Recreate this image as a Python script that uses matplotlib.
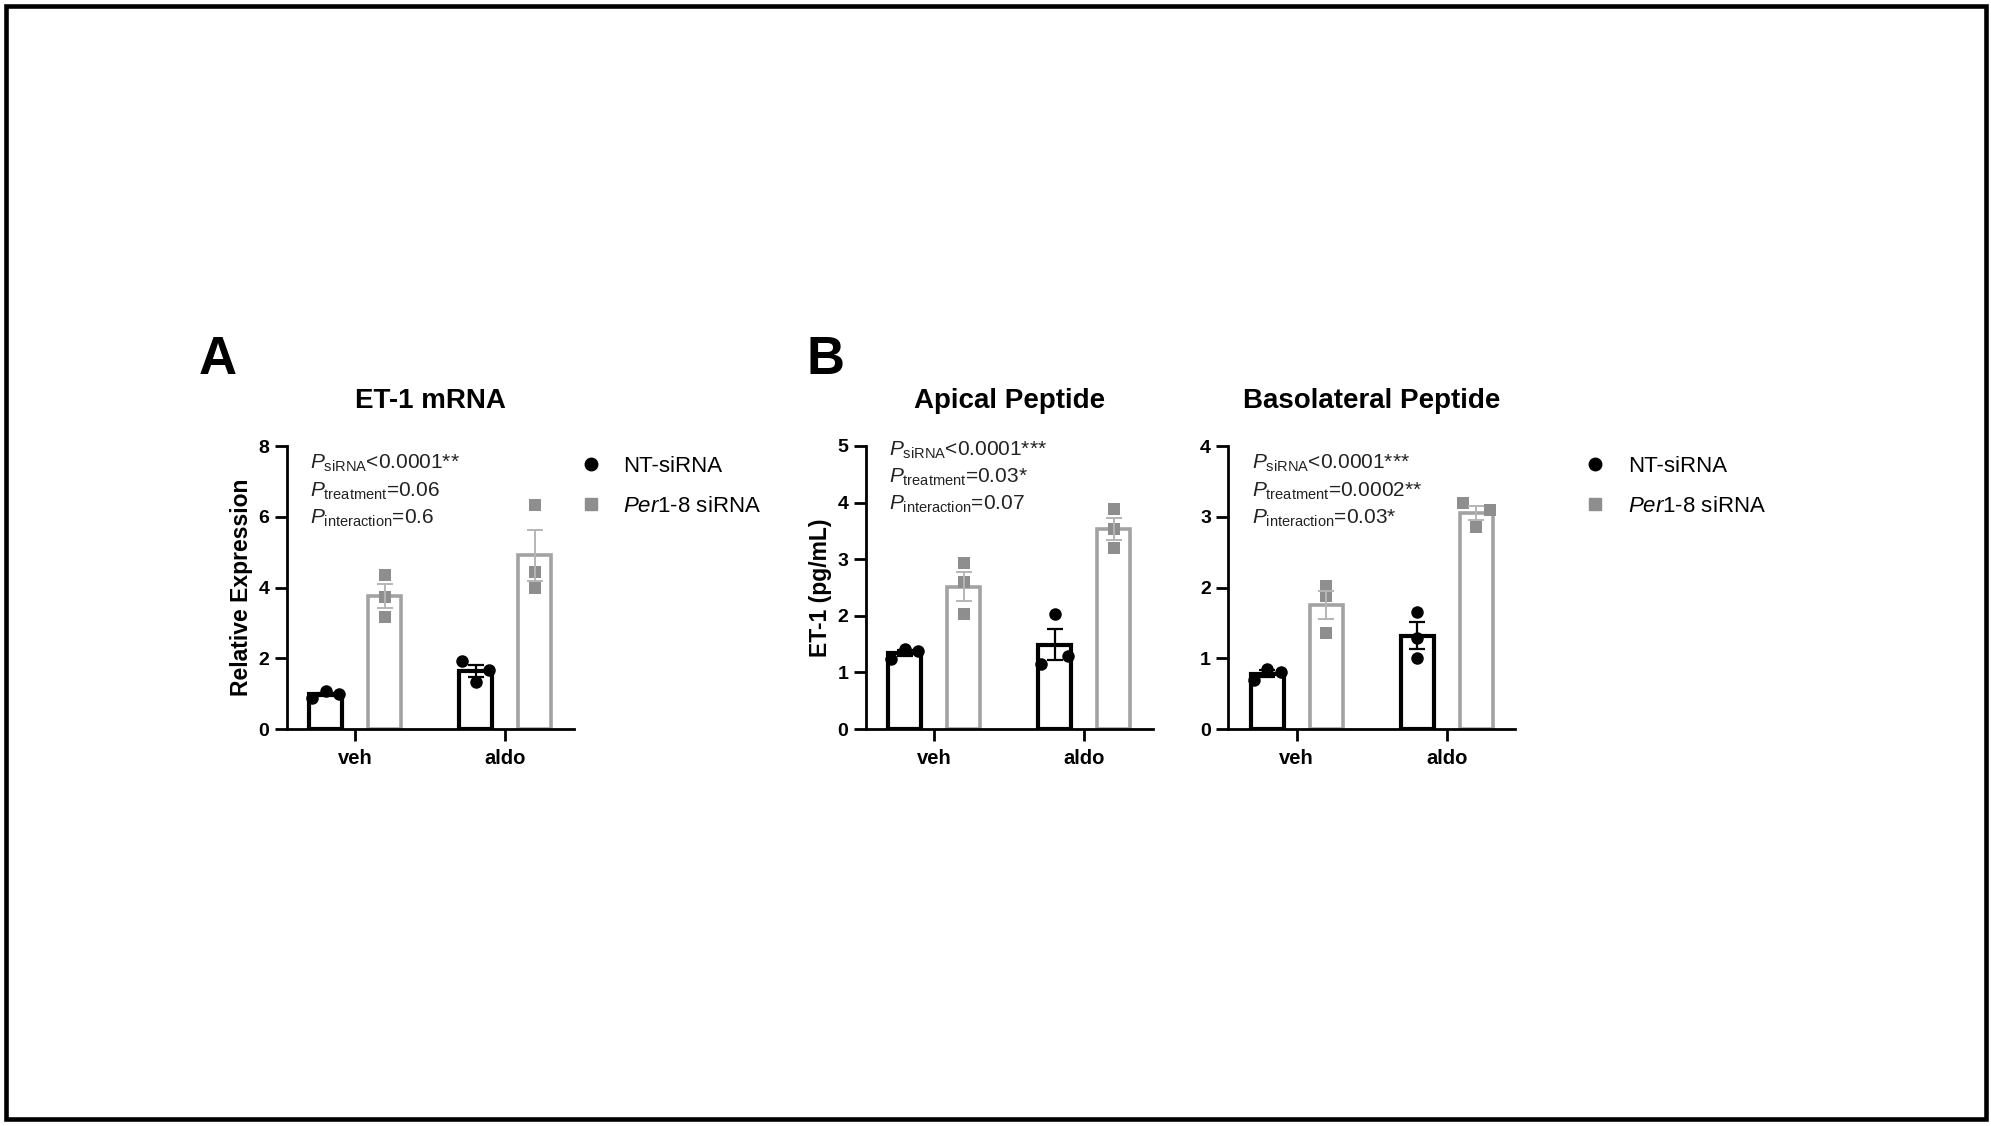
import numpy as np
import matplotlib
matplotlib.use("Agg")
import matplotlib.pyplot as plt
from matplotlib.lines import Line2D
from matplotlib.patches import Rectangle

plt.rcParams['font.family'] = ['Liberation Sans', 'DejaVu Sans']
plt.rcParams['mathtext.fontset'] = 'custom'
plt.rcParams['mathtext.rm'] = 'Liberation Sans'
plt.rcParams['mathtext.it'] = 'Liberation Sans:italic'
plt.rcParams['mathtext.bf'] = 'Liberation Sans:bold'

# data (3 replicates per bar)
groups = ["veh", "aldo"]
series = ["NT-siRNA", r"$\it{Per1}$-8 siRNA"]

mrna_nt = [[0.88, 1.07, 0.98], [1.92, 1.33, 1.66]]
mrna_per1 = [[4.36, 3.72, 3.18], [6.32, 4.43, 3.98]]
apical_nt = [[1.24, 1.42, 1.38], [1.14, 2.04, 1.29]]
apical_per1 = [[2.93, 2.59, 2.03], [3.88, 3.53, 3.19]]
baso_nt = [[0.69, 0.85, 0.81], [1.66, 1.29, 1.01]]
baso_per1 = [[2.02, 1.88, 1.36], [3.20, 2.86, 3.09]]

titles = ["ET-1 mRNA", "Apical Peptide", "Basolateral Peptide"]
ylabels = ["Relative Expression", "ET-1 (pg/mL)", None]
ymax = [8, 5, 4]
ystep = [2, 1, 1]
pvals = [
    [r"$P_{\mathrm{siRNA}}$<0.0001**", r"$P_{\mathrm{treatment}}$=0.06", r"$P_{\mathrm{interaction}}$=0.6"],
    [r"$P_{\mathrm{siRNA}}$<0.0001***", r"$P_{\mathrm{treatment}}$=0.03*", r"$P_{\mathrm{interaction}}$=0.07"],
    [r"$P_{\mathrm{siRNA}}$<0.0001***", r"$P_{\mathrm{treatment}}$=0.0002**", r"$P_{\mathrm{interaction}}$=0.03*"],
]

# how the dots are spread inside each bar (-1 left, 0 centre, 1 right)
spread = [
    [[-1, 0, 1], [-1, 0, 1]], [[0, 0, 0], [0, 0, 0]],
    [[-1, 0, 1], [-1, 0, 1]], [[0, 0, 0], [0, 0, 0]],
    [[-1, 0, 1], [0, 0, 0]], [[0, 0, 0], [-1, 0, 1]],
]

panels = [(mrna_nt, mrna_per1), (apical_nt, apical_per1), (baso_nt, baso_per1)]

black = "black"
grey_edge = "#a3a3a3"
grey_pts = "#8e8e8e"
grey_err = "#b5b5b5"

W, H = 1991, 1126
fig = plt.figure(figsize=(W / 100, H / 100), dpi=100)

ax_left = [286.7, 865.7, 1228.3]
ax_w = 287
ax_bottom = 729
ax_top = 446
text_y = [[463, 491, 518], [450, 477, 504], [463, 491, 518]]

width = 0.22
off = 0.196
jit = 0.09

axes = []
for k in range(3):
    ax = fig.add_axes([ax_left[k] / W, 1 - ax_bottom / H, ax_w / W, (ax_bottom - ax_top) / H])
    axes.append(ax)
    nt, per1 = panels[k]
    x = np.arange(len(groups))
    for s, (vals, edge, pc, ec, mk, ms) in enumerate([
            (nt, black, black, black, 'o', 9.0),
            (per1, grey_edge, grey_pts, grey_err, 's', 8.0)]):
        arr = np.array(vals)
        means = arr.mean(axis=1)
        sem = arr.std(axis=1, ddof=1) / np.sqrt(arr.shape[1])
        xs = x + (-off if s == 0 else off)
        ax.bar(xs, means, width=width, facecolor="white", edgecolor=edge,
               linewidth=3.0 if s == 0 else 2.6, zorder=2)
        for g in range(len(groups)):
            px = xs[g] + jit * np.array(spread[2 * k + s][g])
            ax.scatter(px, arr[g], s=ms ** 2, marker=mk, color=pc,
                       linewidths=0, zorder=3)
        ax.errorbar(xs, means, yerr=sem, fmt='none', ecolor=ec,
                    elinewidth=1.6 if s == 0 else 1.4, capsize=6,
                    capthick=1.6 if s == 0 else 1.4, zorder=4)

    ax.set_xlim(-0.455, 1.455)
    ax.set_ylim(0, ymax[k])
    ax.set_yticks(np.arange(0, ymax[k] + 0.1, ystep[k]))
    ax.set_xticks(x)
    ax.set_xticklabels(groups)
    for sp in ["top", "right"]:
        ax.spines[sp].set_visible(False)
    for sp in ["left", "bottom"]:
        ax.spines[sp].set_linewidth(2.0)
    ax.tick_params(axis='both', direction='out', length=8.5, width=2.0,
                   labelsize=14, pad=4)
    ax.tick_params(axis='x', labelsize=14.5, pad=6)
    for lab in ax.get_xticklabels() + ax.get_yticklabels():
        lab.set_fontweight("bold")
    ax.set_title(titles[k], fontsize=20, fontweight="bold", y=1.135, pad=0)
    if ylabels[k]:
        ax.set_ylabel(ylabels[k], fontsize=16.5, fontweight="bold")
        ax.yaxis.set_label_coords(-0.118, 0.5)
    for i, t in enumerate(pvals[k]):
        ax.text(0.081, (ax_bottom - text_y[k][i]) / (ax_bottom - ax_top), t,
                transform=ax.transAxes, fontsize=15, va='center', ha='left',
                color="#222222")

handles = [
    Line2D([], [], marker='o', color=black, linestyle='none', markersize=9),
    Line2D([], [], marker='s', color=grey_pts, linestyle='none', markersize=8.2),
]
for k, lx in [(0, 579.6), (2, 1584)]:
    ax = axes[k]
    ax.legend(handles, series, loc='upper left', frameon=False, fontsize=16,
              bbox_to_anchor=((lx - ax_left[k]) / ax_w, (ax_bottom - 456) / (ax_bottom - ax_top)),
              borderpad=0, borderaxespad=0, handlelength=1.0, handletextpad=0.97,
              labelspacing=0.85)

fig.text(199 / W, 1 - 374 / H, "A", fontsize=38, fontweight="bold", ha="left", va="baseline")
fig.text(806 / W, 1 - 374 / H, "B", fontsize=38, fontweight="bold", ha="left", va="baseline")

# frame round the whole figure
fig.add_artist(Rectangle((6 / W, 7 / H), 1979.5 / W, 1113 / H, transform=fig.transFigure,
                         fill=False, edgecolor="black", linewidth=3.3))

fig.savefig("out.png", dpi=100)
